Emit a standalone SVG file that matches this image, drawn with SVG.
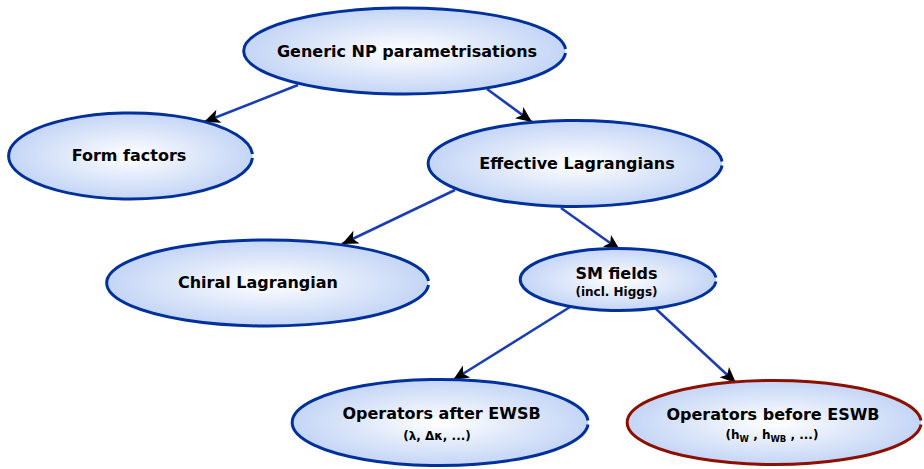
<svg xmlns="http://www.w3.org/2000/svg" width="924" height="469" viewBox="0 0 924 469">
  <defs>
    <radialGradient id="fill" cx="0.5" cy="0.5" r="0.5">
      <stop offset="0" stop-color="#ffffff"/>
      <stop offset="1" stop-color="#c4d5f6"/>
    </radialGradient>
    <marker id="arrow" markerWidth="18" markerHeight="16" refX="17" refY="8" orient="auto" markerUnits="userSpaceOnUse">
      <path d="M17,8 L1,1 L5,8 L1,15 z" fill="#000"/>
    </marker>
    <style>
      .node path { fill: url(#fill); stroke: #00309a; stroke-width: 3; }
      .node.red path { stroke: #8c0f00; }
      .edges line { stroke: #1a3db3; stroke-width: 2.5; marker-end: url(#arrow); }
      text { font-family: "DejaVu Sans", "Liberation Sans", sans-serif; font-weight: bold; fill: #000; text-anchor: middle; }
      .t { font-size: 16px; }
      .s { font-size: 12px; }
      .sub { font-size: 8.5px; }
    </style>
  </defs>

  <!-- connectors -->
  <g id="edges" class="edges">
    <line x1="298" y1="85" x2="204" y2="122"/>
    <line x1="487" y1="89" x2="532" y2="122"/>
    <line x1="455" y1="190" x2="342" y2="244"/>
    <line x1="561" y1="208" x2="620" y2="250"/>
    <line x1="570" y1="307" x2="453" y2="380"/>
    <line x1="655" y1="308" x2="736" y2="383"/>
  </g>

  <!-- each outline starts just below the right vertex and stops just above it -->
  <g id="generic" class="node">
    <path d="M565.5,53 A161,43 0 1 1 565.5,49"/>
    <text class="t" x="407" y="57">Generic NP parametrisations</text>
  </g>

  <g id="formfactors" class="node">
    <path d="M252.5,158 A122,43 0 1 1 252.5,154"/>
    <text class="t" x="129" y="161">Form factors</text>
  </g>

  <g id="effective" class="node">
    <path d="M722,165.5 A147,43 0 1 1 722,161.5"/>
    <text class="t" x="577" y="169">Effective Lagrangians</text>
  </g>

  <g id="chiral" class="node">
    <path d="M428.5,285 A161,43 0 1 1 428.5,281"/>
    <text class="t" x="258" y="288">Chiral Lagrangian</text>
  </g>

  <g id="smfields" class="node">
    <path d="M716,281.5 A98,31 0 1 1 716,277.5"/>
    <text class="t" x="616.5" y="279">SM fields</text>
    <text class="s" x="616.5" y="296">(incl. Higgs)</text>
  </g>

  <g id="after" class="node">
    <path d="M588,424.5 A148,43 0 1 1 588,420.5"/>
    <text class="t" x="441.5" y="419">Operators after EWSB</text>
    <text class="s" x="437" y="440">(λ, Δκ, ...)</text>
  </g>

  <g id="before" class="node red">
    <path d="M921,424.5 A147,42 0 1 1 921,420.5"/>
    <text class="t" x="773" y="420">Operators before ESWB</text>
    <text class="s" x="772" y="439">(h<tspan class="sub" dy="3">W</tspan><tspan dy="-3"> , h</tspan><tspan class="sub" dy="3">WB</tspan><tspan dy="-3"> , ...)</tspan></text>
  </g>
</svg>
